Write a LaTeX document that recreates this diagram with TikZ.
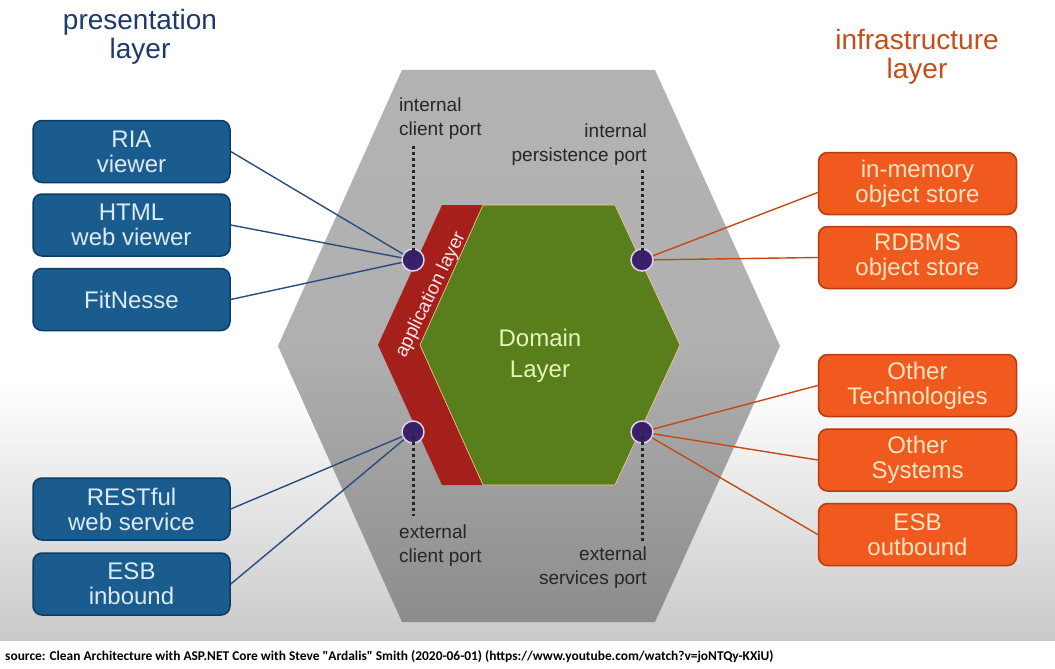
\documentclass[tikz,border=0pt]{standalone}
\usepackage{fontspec}
\setmainfont{Liberation Sans}
\newfontfamily\srcfont{Carlito}
\definecolor{boxblue}{HTML}{1B5C8F}
\definecolor{boxblueborder}{HTML}{0E3B66}
\definecolor{boxbluetext}{HTML}{DCEAF6}
\definecolor{boxorange}{HTML}{F05A1E}
\definecolor{boxorangeborder}{HTML}{B83C0C}
\definecolor{boxorangetext}{HTML}{FDE4C2}
\definecolor{lineblue}{HTML}{2B4C7E}
\definecolor{lineorange}{HTML}{C24A14}
\definecolor{portfill}{HTML}{3A1F6B}
\definecolor{portborder}{HTML}{DDD4EC}
\definecolor{appred}{HTML}{A51F1B}
\definecolor{domgreen}{HTML}{587F1B}
\definecolor{domtext}{HTML}{E6F4B8}
\definecolor{titleblue}{HTML}{1C3A6B}
\definecolor{titleorange}{HTML}{C24E1C}
\tikzset{
  bluebox/.style={draw=boxblueborder, fill=boxblue, line width=1.5pt, rounded corners=9pt,
    minimum width=197pt, minimum height=62pt, text=boxbluetext, align=center,
    font=\fontsize{24}{25}\selectfont, inner sep=0pt},
  orangebox/.style={draw=boxorangeborder, fill=boxorange, line width=1.5pt, rounded corners=9pt,
    minimum width=198pt, minimum height=62pt, text=boxorangetext, align=center,
    font=\fontsize{24}{25}\selectfont, inner sep=0pt},
  port/.style={circle, fill=portfill, draw=portborder, line width=1.5pt, minimum size=22pt, inner sep=0pt},
  blueline/.style={draw=lineblue, line width=1.4pt},
  orangeline/.style={draw=lineorange, line width=1.4pt},
  portdots/.style={draw=black!85, line width=3pt, dash pattern=on 3pt off 3pt},
  portlabel/.style={font=\fontsize{19}{23.5}\selectfont, inner sep=0pt, text=black!85},
  title/.style={font=\fontsize{28}{29}\selectfont, align=center, inner sep=0pt}
}
\begin{document}
\begin{tikzpicture}[x=1pt, y=-1pt]
\useasboundingbox (0,0) rectangle (1055,669);
% background
\fill[white] (0,0) rectangle (1055,669);
\shade[top color=white, bottom color=black!21] (0,380) rectangle (1055,640);
% gray hexagon
\shade[top color=black!30, bottom color=black!45, middle color=black!31]
  (402,70) -- (655,70) -- (780,346) -- (655,622) -- (402,622) -- (278,346) -- cycle;
% application layer band
\fill[appred] (442,205) -- (483,205) -- (420,345) -- (483,485) -- (442,485) -- (378,345) -- cycle;
% domain hexagon
\filldraw[fill=domgreen, draw=orange!40!white, line width=0.6pt]
  (483,205) -- (615,205) -- (680,345) -- (615,485) -- (483,485) -- (420,345) -- cycle;
\node[font=\fontsize{24}{31}\selectfont, text=domtext, align=center] (dom) at (540,356) {Domain\\Layer};
\node[font=\fontsize{19}{21}\selectfont, text=red!10!white, rotate=64, inner sep=0pt] (app) at (431,295) {application layer};
% titles
\node[title, text=titleblue] (ptitle) at (140,37) {presentation\\layer};
\node[title, text=titleorange] (ititle) at (917,57) {infrastructure\\layer};
% boxes
\node[bluebox] (ria) at (131.5,151.5) {RIA\\viewer};
\node[bluebox] (html) at (131.5,225) {HTML\\web viewer};
\node[bluebox] (fit) at (131.5,299.5) {FitNesse};
\node[bluebox] (rest) at (131.5,509) {RESTful\\web service};
\node[bluebox] (esbin) at (131.5,584) {ESB\\inbound};
\node[orangebox] (mem) at (917.5,183.5) {in-memory\\object store};
\node[orangebox] (rdb) at (917.5,257.5) {RDBMS\\object store};
\node[orangebox] (tech) at (917.5,385.5) {Other\\Technologies};
\node[orangebox] (sys) at (917.5,460) {Other\\Systems};
\node[orangebox] (esbout) at (917.5,534.5) {ESB\\outbound};
% ports
\node[port] (icp) at (413,260) {};
\node[port] (ecp) at (413,432) {};
\node[port] (ipp) at (642,260) {};
\node[port] (esp) at (642,432) {};
% connectors
\draw[blueline] (ria.east) -- (icp);
\draw[blueline] (html.east) -- (icp);
\draw[blueline] (fit.east) -- (icp);
\draw[blueline] (rest.east) -- (ecp);
\draw[blueline] (esbin.east) -- (ecp);
\draw[orangeline] ([yshift=-9pt]mem.west) -- (ipp);
\draw[orangeline] (rdb.west) -- (ipp);
\draw[orangeline] (tech.west) -- (esp);
\draw[orangeline] (sys.west) -- (esp);
\draw[orangeline] (esbout.west) -- (esp);
% port labels
\node[portlabel, anchor=north west, align=left] (licp) at (399,98) {internal\\client port};
\node[portlabel, anchor=north east, align=right] (lipp) at (647,124) {internal\\persistence port};
\node[portlabel, anchor=north west, align=left] (lecp) at (399,525) {external\\client port};
\node[portlabel, anchor=north east, align=right] (lesp) at (647,547) {external\\services port};
\coordinate (d1) at (413,146);
\coordinate (d2) at (642,170);
\coordinate (d3) at (413,516);
\coordinate (d4) at (642,541);
\draw[portdots] (d1) -- ([yshift=-8pt]icp.north);
\draw[portdots] (d2) -- ([yshift=-8pt]ipp.north);
\draw[portdots] ([yshift=8pt]ecp.south) -- (d3);
\draw[portdots] ([yshift=8pt]esp.south) -- (d4);
% source
\node[anchor=west, inner sep=0pt, font=\srcfont\bfseries\fontsize{13.4}{15}\selectfont] (src) at (5,657)
  {source: Clean Architecture with ASP.NET Core with Steve "Ardalis" Smith (2020-06-01) (https://www.youtube.com/watch?v=joNTQy-KXiU)};
\end{tikzpicture}
\end{document}
